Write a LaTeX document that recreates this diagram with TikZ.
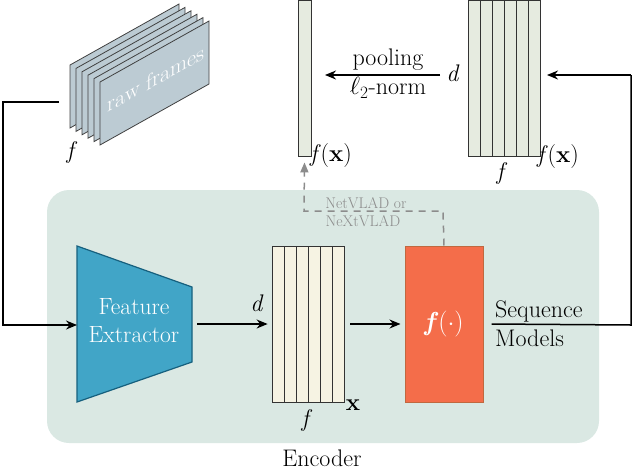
\documentclass[tikz,border=0pt]{standalone}
\usepackage{fontspec}
\usetikzlibrary{arrows.meta}
\definecolor{bgc}{HTML}{DAE8E3}
\definecolor{fefill}{HTML}{41A5C7}
\definecolor{fedraw}{HTML}{16607E}
\definecolor{xfill}{HTML}{F6F3E3}
\definecolor{vfill}{HTML}{E6EBE0}
\definecolor{ofill}{HTML}{F46D4A}
\definecolor{odraw}{HTML}{C0683F}
\definecolor{framefill}{HTML}{BCCBD3}
\definecolor{dgray}{HTML}{8C8C8C}
\tikzset{
  conn/.style={line width=1.5pt,-{Stealth[length=11pt,width=9pt]}},
  plain/.style={line width=1.5pt},
  dconn/.style={line width=1.5pt,dgray,dash pattern=on 7pt off 6pt,-{Triangle[length=10pt,width=8pt]}},
  matbox/.style={draw=black!80,line width=0.8pt,inner sep=0pt},
  lbl/.style={inner sep=0pt},
  frame/.style={draw=black!75,line width=0.8pt,fill=framefill},
}
\begin{document}
\begin{tikzpicture}[x=1pt,y=-1pt,font=\fontsize{24}{27}\selectfont]
\useasboundingbox (0,0) rectangle (634,472);
% encoder background
\fill[bgc,rounded corners=22pt] (47,190) rectangle (599,443);
\node[lbl,anchor=base] (enc) at (322,466) {Encoder};

% raw frames
\foreach \k in {0,...,5}{
  \draw[frame] ({70+6*\k},{65+3.4*\k}) -- ++(109,-61) -- ++(0,63) -- ++(-109,61) -- cycle;
}
\node[lbl,white,yslant=0.56,font=\fontsize{22}{24}\selectfont] (rawtxt) at (156,78) {raw frames};
\node[lbl] (fraw) at (72,152) {\textit{f}};
\coordinate (framesin) at (59,102);

% feature extractor
\draw[fill=fefill,draw=fedraw,line width=1.2pt] (77,246) -- (192,287) -- (192,362) -- (77,402) -- cycle;
\node[lbl,white,align=center,font=\fontsize{23.5}{28}\selectfont] (fe) at (134,321) {Feature\\Extractor};
\coordinate (fein) at (77,325);
\coordinate (feout) at (197,324);

% matrix x
\node[matbox,fill=xfill,minimum width=72pt,minimum height=156pt] (X) at (308,324) {};
\foreach \i in {1,...,5}{\draw[black!80,line width=0.8pt] ({272+12*\i},246) -- ({272+12*\i},402);}
\node[lbl] (Xd) at (257,303) {\textit{d}};
\node[lbl] (Xf) at (307,420) {\textit{f}};
\node[lbl] (Xx) at (353,405) {\textbf{x}};

% f(.) box
\node[draw=odraw,line width=1pt,fill=ofill,minimum width=78pt,minimum height=156pt,text=white,font=\fontsize{26}{28}\selectfont] (F) at (444,324) {\textbf{\textit{f}}($\cdot$)};

% top vector
\node[matbox,fill=vfill,minimum width=13pt,minimum height=156pt] (V) at (304.5,78) {};
\node[lbl] (Vl) at (331,156) {\textit{f}(\textbf{x})};

% top matrix
\node[matbox,fill=vfill,minimum width=72pt,minimum height=156pt] (M) at (504,78) {};
\foreach \i in {1,...,5}{\draw[black!80,line width=0.8pt] ({468+12*\i},0) -- ({468+12*\i},156);}
\node[lbl] (Md) at (453,73) {\textit{d}};
\node[lbl] (Mf) at (502,173) {\textit{f}};
\node[lbl] (Ml) at (558,157) {\textit{f}(\textbf{x})};

\node[lbl] (pool) at (388,60) {pooling};
\node[lbl] (norm) at (388,88) {$\ell_2$-norm};

% sequence models
\node[lbl,anchor=base west] (seq) at (495,317) {Sequence};
\node[lbl,anchor=base west] (mod) at (495,346) {Models};

% dashed netvlad
\node[lbl,dgray,font=\fontsize{15.5}{17}\selectfont] (nv1) at (366,203) {NetVLAD or};
\node[lbl,dgray,font=\fontsize{15.5}{17}\selectfont] (nv2) at (363,221) {NeXtVLAD};
\draw[dconn] (F.north) -- (443,211) -- (304,211) -- ([yshift=-6pt]V.south);

% connectors
\draw[conn] (framesin) -- (3,102) -- (3,325) -- (fein);
\draw[conn] (feout) -- ([xshift=-4pt]X.west);
\draw[conn] ([xshift=6pt]X.east) -- ([xshift=-4pt]F.west);
\draw[plain] ([xshift=8pt]F.east) -- (631,325) -- (631,75);
\draw[conn] (631,75) -- (547,75);
\draw[conn] (440,75) -- (325,75);
\end{tikzpicture}
\end{document}
